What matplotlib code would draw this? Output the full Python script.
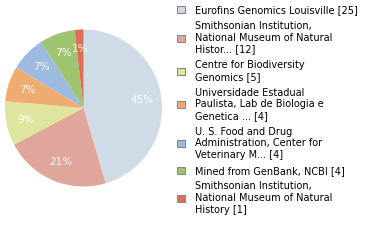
import matplotlib
matplotlib.use("Agg")
import matplotlib.pyplot as plt
from matplotlib.patches import Patch

labels = [
    "Eurofins Genomics Louisville [25]",
    "Smithsonian Institution,\nNational Museum of Natural\nHistor... [12]",
    "Centre for Biodiversity\nGenomics [5]",
    "Universidade Estadual\nPaulista, Lab de Biologia e\nGenetica ... [4]",
    "U. S. Food and Drug\nAdministration, Center for\nVeterinary M... [4]",
    "Mined from GenBank, NCBI [4]",
    "Smithsonian Institution,\nNational Museum of Natural\nHistory [1]",
]
counts = [25, 12, 5, 4, 4, 4, 1]
colors = ["#cfdbe6", "#e0a59b", "#dfe49f", "#f0ac70", "#9dbadf", "#9ec46f", "#df6d55"]

total = sum(counts)

fig = plt.figure(figsize=(3.8, 2.4), dpi=100)
ax = fig.add_axes([5 / 380, 1 - 186.5 / 240, 157 / 380, 157 / 240])

wedges, texts, autotexts = ax.pie(
    counts,
    colors=colors,
    startangle=90,
    counterclock=False,
    autopct=lambda p: f"{int(p * total / 100 + 1e-6) * 100 // total}%",
    pctdistance=0.75,
    textprops=dict(color="white", fontsize=7.5),
    wedgeprops=dict(linewidth=0),
)
ax.set_xlim(-1, 1)
ax.set_ylim(-1, 1)
ax.set_aspect("equal")

handles = [Patch(facecolor=c, edgecolor="#888888", linewidth=0.8) for c in colors]
leg = fig.legend(
    handles,
    labels,
    loc="upper left",
    bbox_to_anchor=(170 / 380, 1 + 2 / 240),
    frameon=False,
    fontsize=7,
    handlelength=0.75,
    handleheight=0.75,
    handletextpad=1.1,
    labelspacing=0.6,
    borderpad=0.25,
)

fig.savefig("out.png", dpi=100)
